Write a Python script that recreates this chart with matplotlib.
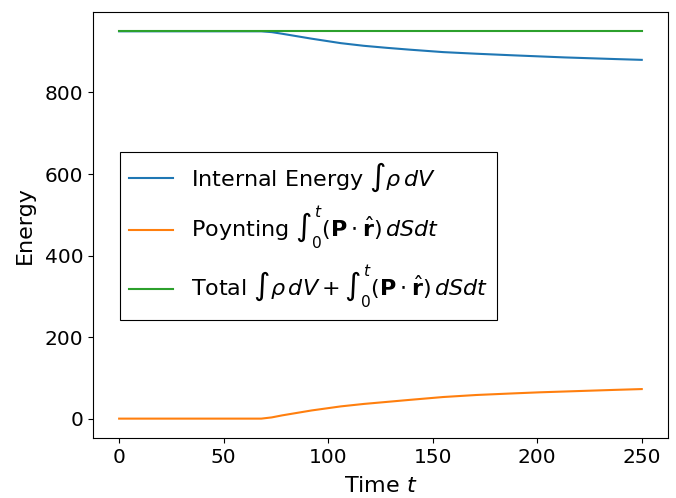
import matplotlib
matplotlib.use("Agg")
import matplotlib.pyplot as plt

plt.rcParams['font.size'] = 16
plt.rcParams['xtick.labelsize'] = 14.5
plt.rcParams['ytick.labelsize'] = 14.5

# values
time = [0, 30, 60, 68, 73, 78, 85, 92, 99, 106, 117, 128, 139, 147, 155,
        163, 171, 180, 189, 201, 213, 225, 237, 250]
internal = [950, 950, 950, 950, 948, 944, 938, 932, 926.5, 921, 914.5, 909.5,
            905, 902, 899, 897, 895, 893, 891, 888.5, 886, 884, 882, 880]
poynting = [0, 0, 0, 0, 3, 8, 14, 20, 25, 30, 36, 41, 46, 49.5, 53,
            55.5, 58, 60, 62, 64.5, 66.5, 68.5, 70.5, 72.5]
total = [950] * len(time)

labels = [r'Internal Energy $\int\rho\, dV$',
          r'Poynting $\int_0^t (\mathbf{P}\cdot\hat{\mathbf{r}})\, dSdt$',
          r'Total $\int\rho\, dV + \int_0^t (\mathbf{P}\cdot\hat{\mathbf{r}})\, dSdt$']

fig = plt.figure(figsize=(6.76, 4.98), dpi=100)
ax = fig.add_axes([0.1376, 0.1205, 0.8504, 0.8555])

ax.plot(time, internal, label=labels[0])
ax.plot(time, poynting, label=labels[1])
ax.plot(time, total, label=labels[2])

ax.set_xlabel(r'Time $t$', labelpad=7)
ax.set_ylabel('Energy', labelpad=7)
ax.set_xticks([0, 50, 100, 150, 200, 250])
ax.set_yticks([0, 200, 400, 600, 800])

leg = ax.legend(loc='lower left', bbox_to_anchor=(0.047, 0.277), borderaxespad=0,
                fancybox=False, edgecolor='black', framealpha=1)
leg.get_frame().set_linewidth(0.8)

plt.savefig('out.png', dpi=100)
